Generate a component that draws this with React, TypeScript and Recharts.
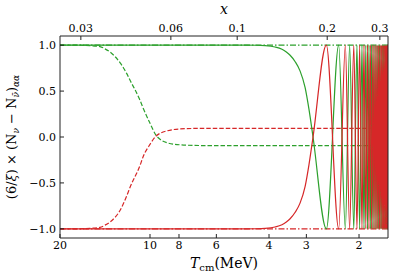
import { LineChart, Line, XAxis, YAxis } from 'recharts';

// T_cm (MeV) axis, log scale, running from hot (left) to cold (right)
const bottomTicks = [20, 10, 8, 6, 4, 3, 2];
// top axis x = m_e / T
const ELECTRON_MASS = 0.511;
const topTickLabels = [0.03, 0.06, 0.1, 0.2, 0.3];
const topTicksT = topTickLabels.map((x) => ELECTRON_MASS / x);
const yTicks = [-1, -0.5, 0, 0.5, 1];

// solid curves: smooth flip, then fast oscillation (points at the turning points)
const solidT = [
  20, 8, 5, 4.4, 4.12, 3.82, 3.62, 3.5, 3.4, 3.27, 3.15, 3.03, 2.94, 2.85,
  2.572, 2.339, 2.222, 2.15, 2.082, 2.032, 1.99, 1.955, 1.925, 1.898, 1.874,
  1.853, 1.833, 1.815, 1.798, 1.783, 1.768, 1.755, 1.742, 1.731, 1.719, 1.709,
  1.699, 1.689, 1.68, 1.671, 1.663, 1.655, 1.647, 1.64, 1.632, 1.626, 1.619,
  1.612, 1.606, 1.6,
];
const greenSolid = [
  1, 1, 1, 0.999, 0.995, 0.98, 0.955, 0.925, 0.89, 0.82, 0.72, 0.54, 0.3, 0,
  -1, 1, -1, 1, -1, 1, -1, 1, -1, 1, -1,
  1, -1, 1, -1, 1, -1, 1, -1, 1, -1, 1,
  -1, 1, -1, 1, -1, 1, -1, 1, -1, 1, -1,
  1, -1, 1,
];
const redSolid = [
  -1, -1, -1, -0.999, -0.995, -0.98, -0.955, -0.925, -0.89, -0.82, -0.72, -0.54, -0.3, 0,
  1, -1, 1, -1, 1, -1, 1, -1, 1, -1, 1,
  -1, 1, -1, 1, -1, 1, -1, 1, -1, 1, -1,
  1, -1, 1, -1, 1, -1, 1, -1, 1, -1, 1,
  -1, 1, -1,
];

// dashed curves
const dashedT = [20, 17.5, 15.9, 14.7, 14.14, 13.6, 12.6, 11.96, 11.67, 10.8, 10.53, 10.0, 9.55, 9.26, 8.79, 7.94, 6.8, 5.5, 1.6];
const greenDashed = [1, 1, 0.995, 0.985, 0.96, 0.925, 0.81, 0.69, 0.62, 0.4, 0.31, 0.15, 0.02, -0.025, -0.062, -0.085, -0.093, -0.095, -0.095];
const redDashed = [-1, -1, -0.995, -0.985, -0.96, -0.925, -0.8, -0.64, -0.55, -0.31, -0.21, -0.08, 0.01, 0.04, 0.066, 0.088, 0.094, 0.095, 0.095];

// dash-dot reference lines
const dashDotT = [20, 1.6];
const greenDashDot = [1, 1];
const redDashDot = [-1, -1];

const GREEN = '#2ca02c';
const RED = '#d62728';
const FONT = '"DejaVu Serif", serif';

const pts = (ts: number[], vs: number[]) => ts.map((T, i) => ({ T, v: vs[i] }));

const fmtY = (v: number) => v.toFixed(1).replace('-', '\u2212');
const fmtTop = (v: number) => {
  const i = topTicksT.indexOf(v);
  return i >= 0 ? String(topTickLabels[i]) : '';
};

const YLabel = (props: any) => {
  const { x, y, height } = props.viewBox;
  const cx = x + 16;
  const cy = y + height / 2;
  return (
    <text
      x={cx}
      y={cy}
      transform={`rotate(-90 ${cx} ${cy})`}
      textAnchor="middle"
      fontSize={13}
      fontFamily={FONT}
      fill="#000"
    >
      <tspan>(6/</tspan>
      <tspan fontStyle="italic">ξ</tspan>
      <tspan>) × (N</tspan>
      <tspan fontStyle="italic" fontSize={9} dy={3}>ν</tspan>
      <tspan dy={-3}> − N</tspan>
      <tspan fontStyle="italic" fontSize={9} dy={3}>ν̄</tspan>
      <tspan dy={-3}>)</tspan>
      <tspan fontStyle="italic" fontSize={9} dy={3}>αα</tspan>
    </text>
  );
};

const BottomLabel = (props: any) => {
  const { x, y, width } = props.viewBox;
  return (
    <text x={x + width / 2} y={y + 30} textAnchor="middle" fontSize={14} fontFamily={FONT} fill="#000">
      <tspan fontStyle="italic">T</tspan>
      <tspan fontSize={10} dy={3}>cm</tspan>
      <tspan dy={-3}>(MeV)</tspan>
    </text>
  );
};

const TopLabel = (props: any) => {
  const { x, width } = props.viewBox;
  return (
    <text x={x + width / 2} y={14} textAnchor="middle" fontSize={14} fontFamily={FONT} fontStyle="italic" fill="#000">
      x
    </text>
  );
};

const tickStyle = { fontSize: 11, fill: '#000', fontFamily: FONT };
const AXIS = '#222';

export default function App() {
  return (
    <div style={{ position: 'absolute', left: 0, top: 0, fontFamily: FONT }}>
      <LineChart width={400} height={280} margin={{ top: 0, right: 0, bottom: 0, left: 0 }}>
        <XAxis
          xAxisId="b"
          dataKey="T"
          type="number"
          scale="log"
          domain={[1.6, 20]}
          allowDataOverflow
          reversed
          ticks={bottomTicks}
          interval={0}
          height={42}
          tickSize={-4}
          tickMargin={7}
          tick={tickStyle}
          stroke={AXIS}
          axisLine={{ stroke: AXIS }}
          tickLine={{ stroke: AXIS }}
          label={{ content: BottomLabel }}
        />
        <XAxis
          xAxisId="t"
          orientation="top"
          dataKey="T"
          type="number"
          scale="log"
          domain={[1.6, 20]}
          allowDataOverflow
          reversed
          ticks={topTicksT}
          tickFormatter={fmtTop}
          interval={0}
          height={36}
          tickSize={-4}
          tickMargin={8}
          tick={tickStyle}
          stroke={AXIS}
          axisLine={{ stroke: AXIS }}
          tickLine={{ stroke: AXIS }}
          label={{ content: TopLabel }}
        />
        <YAxis
          yAxisId="l"
          type="number"
          domain={[-1.1, 1.1]}
          allowDataOverflow
          ticks={yTicks}
          interval={0}
          width={60}
          tickSize={-4}
          tickMargin={8}
          tickFormatter={fmtY}
          tick={tickStyle}
          stroke={AXIS}
          axisLine={{ stroke: AXIS }}
          tickLine={{ stroke: AXIS }}
          label={{ content: YLabel }}
        />
        <YAxis
          yAxisId="r"
          orientation="right"
          type="number"
          domain={[-1.1, 1.1]}
          allowDataOverflow
          ticks={yTicks}
          interval={0}
          width={12}
          tickSize={-4}
          tick={false}
          stroke={AXIS}
          axisLine={{ stroke: AXIS }}
          tickLine={{ stroke: AXIS }}
        />
        <Line xAxisId="b" yAxisId="l" data={pts(dashDotT, greenDashDot)} dataKey="v" type="linear" stroke={GREEN} strokeWidth={1.2} strokeDasharray="6 2 1.5 2" dot={false} isAnimationActive={false} />
        <Line xAxisId="b" yAxisId="l" data={pts(dashDotT, redDashDot)} dataKey="v" type="linear" stroke={RED} strokeWidth={1.2} strokeDasharray="6 2 1.5 2" dot={false} isAnimationActive={false} />
        <Line xAxisId="b" yAxisId="l" data={pts(dashedT, greenDashed)} dataKey="v" type="monotone" stroke={GREEN} strokeWidth={1.2} strokeDasharray="4.5 2" dot={false} isAnimationActive={false} />
        <Line xAxisId="b" yAxisId="l" data={pts(dashedT, redDashed)} dataKey="v" type="monotone" stroke={RED} strokeWidth={1.2} strokeDasharray="4.5 2" dot={false} isAnimationActive={false} />
        <Line xAxisId="b" yAxisId="l" data={pts(solidT, greenSolid)} dataKey="v" type="monotone" stroke={GREEN} strokeWidth={1.2} dot={false} isAnimationActive={false} />
        <Line xAxisId="b" yAxisId="l" data={pts(solidT, redSolid)} dataKey="v" type="monotone" stroke={RED} strokeWidth={1.2} dot={false} isAnimationActive={false} />
      </LineChart>
    </div>
  );
}
